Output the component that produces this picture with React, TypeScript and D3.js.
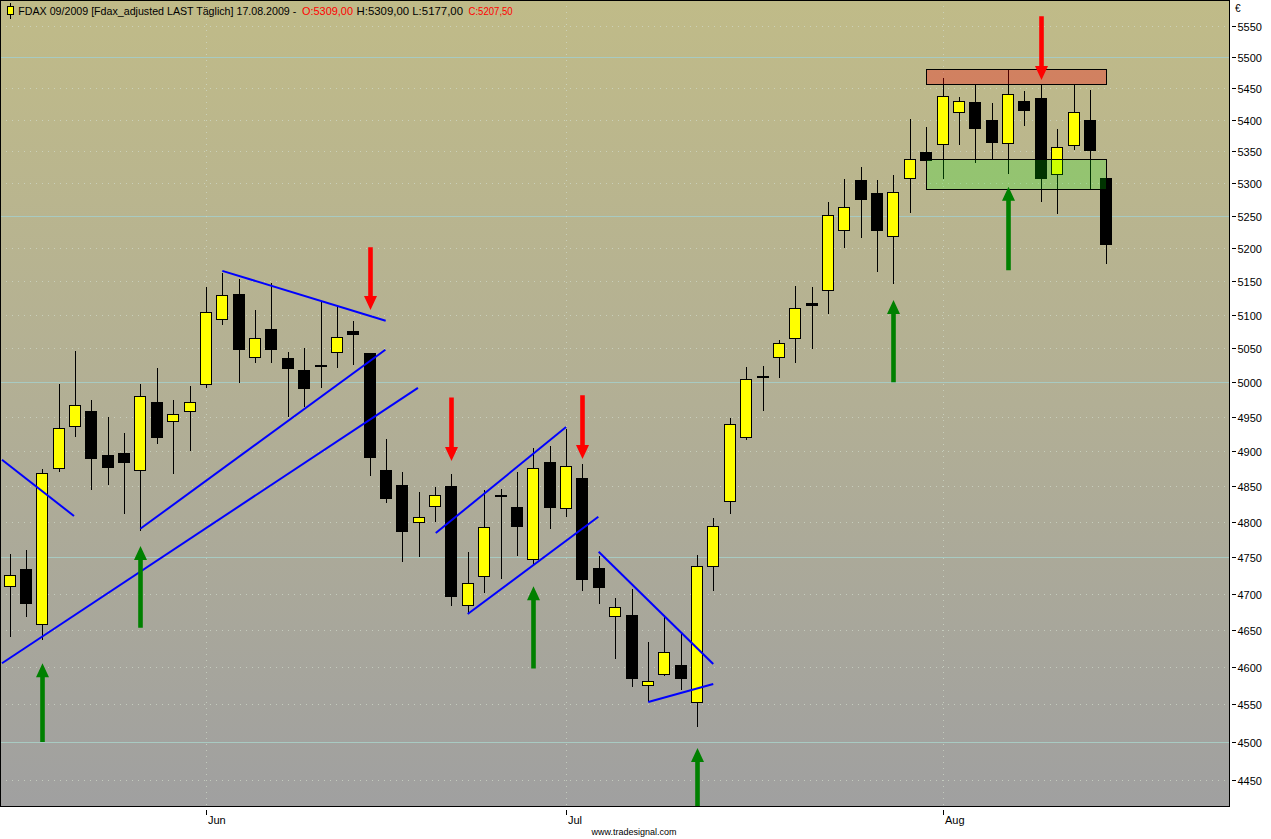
import * as d3 from "d3";
import React from "react";

// daily FDAX candles, 14.05.2009 .. 17.08.2009
const open = [
  4711, 4734, 4658, 4876, 4937, 4958, 4894, 4898, 4873, 4971, 4943, 4958, 4997, 5093, 5131, 5038, 5079,
  5036, 5018, 5025, 5044, 5075.5, 5043, 4873, 4852, 4799, 4822, 4850.5, 4684, 4724, 4837.5, 4821,
  4747.5, 4885, 4819, 4862, 4735, 4669, 4670.5, 4575.5, 4590, 4602.5, 4553.5, 4738, 4829, 4920.5,
  5009, 5037, 5065, 5117, 5137, 5228, 5305, 5285, 5218.5, 5308, 5349, 5361, 5412, 5427.5, 5399.5,
  5363, 5430, 5434, 5314.5, 5359.5, 5399.5, 5309,
];
const high = [
  4755, 4760, 4875, 4998, 5046, 4974, 4950, 4926, 4998, 5021, 4974, 4995, 5142, 5163, 5153, 5107, 5148,
  5045, 5050, 5120, 5113, 5091, 5043, 4918, 4870, 4842, 4849, 4868, 4757, 4845, 4846, 4870.5,
  4905, 4908, 4932.5, 4881.5, 4752, 4694, 4706.5, 4634, 4670.5, 4644.5, 4753.5, 4805, 4948, 5022.5,
  5024, 5062.5, 5143, 5141, 5271, 5307, 5326, 5305.5, 5313, 5400.5, 5388, 5466, 5436, 5456, 5426.5,
  5481, 5445.5, 5456, 5385.5, 5456, 5447, 5309,
];
const low = [
  4640, 4668, 4637, 4870, 4921, 4845, 4852, 4811, 4787, 4910, 4867, 4901, 4991, 5084, 4999.5, 5028, 5029,
  4949, 4964, 4991, 5021, 5026, 4864, 4827, 4743, 4751, 4799, 4683, 4673, 4700.5, 4720.5, 4752.5,
  4741, 4790, 4807, 4704, 4685, 4610.5, 4573, 4553.5, 4588, 4569, 4520, 4704, 4811, 4916,
  4958.5, 5007, 5029, 5049.5, 5101.5, 5201, 5216.5, 5165, 5146.5, 5255, 5336, 5307.5, 5360.5, 5332.5, 5336,
  5314, 5390.5, 5272, 5253.5, 5351.5, 5291, 5177,
];
const close = [
  4725, 4687.5, 4869, 4934, 4967, 4890, 4878, 4884, 4980, 4921, 4953.5, 4971, 5104, 5129, 5049, 5065, 5049.5,
  5021.5, 4991.5, 5024, 5066.5, 5072, 4892, 4834, 4787, 4806, 4837, 4697, 4714, 4792, 4836, 4794.5,
  4876, 4821, 4878.5, 4720.5, 4709.5, 4681, 4584.5, 4581, 4620, 4585.5, 4738, 4794, 4939, 5004.5,
  5008.5, 5057.5, 5110, 5115, 5251, 5263, 5276.5, 5227.5, 5286.5, 5338, 5336, 5437.5, 5429.5, 5387.5, 5364,
  5440.5, 5416, 5309, 5356.5, 5412, 5351.5, 5207.5,
];

const monthTicks = [
  { label: "Jun", index: 12 },
  { label: "Jul", index: 34 },
  { label: "Aug", index: 57 },
];
const priceTicks = d3.range(4450, 5551, 50);

// drawn annotations (candle index, price)
const trendLines = [
  { i0: -0.46, p0: 4888, i1: 3.94, p1: 4808 },
  { i0: -0.46, p0: 4605, i1: 24.95, p1: 4992 },
  { i0: 7.99, p0: 4790, i1: 22.96, p1: 5048 },
  { i0: 13.0, p0: 5166, i1: 22.98, p1: 5091 },
  { i0: 26.04, p0: 4784, i1: 34.0, p1: 4935 },
  { i0: 27.99, p0: 4672, i1: 35.97, p1: 4807 },
  { i0: 35.99, p0: 4758, i1: 42.99, p1: 4604 },
  { i0: 39.02, p0: 4553, i1: 42.99, p1: 4577 },
];
const upArrows = [
  { i: 2, from: 4500, to: 4605 },
  { i: 8, from: 4653, to: 4766 },
  { i: 32, from: 4598, to: 4710 },
  { i: 42, from: 4410, to: 4492 },
  { i: 54, from: 5000, to: 5122 },
  { i: 61, from: 5167, to: 5295 },
];
const downArrows = [
  { i: 22, from: 5202, to: 5107 },
  { i: 27, from: 4978, to: 4886 },
  { i: 35, from: 4981, to: 4889 },
  { i: 63, from: 5566, to: 5463 },
];
const zones = [
  { i0: 56, i1: 67, lo: 5456, hi: 5481, fill: "rgba(255,0,0,0.3)" },
  { i0: 56, i1: 67, lo: 5291, hi: 5338, fill: "rgba(0,255,0,0.2)" },
];

const W = 1271;
const H = 839;
const plot = { left: 0, top: 0, right: 1229, bottom: 806 };
const font = "Liberation Sans, Arial, sans-serif";
const narrow = "Liberation Sans Narrow, Arial Narrow, sans-serif";

const fmt = (v: number) => v.toFixed(2).replace(".", ",");

export default function App() {
  const x = d3.scaleLinear().domain([0, open.length - 1]).range([9.5, 1106.3]);
  const y = d3.scaleLog().domain([4500, 5500]).range([742, 57]);
  const last = open.length - 1;

  const arrowPath = (cx: number, tip: number, base: number) => {
    const dir = base > tip ? 1 : -1; // 1 = pointing up
    const hy = tip + dir * 14;
    return `M${cx},${tip}L${cx + 6.5},${hy}L${cx + 2.3},${hy}L${cx + 2.3},${base}L${cx - 2.3},${base}L${cx - 2.3},${hy}L${cx - 6.5},${hy}Z`;
  };

  // title pieces: text, colour, x, width
  const title = [
    { t: "FDAX 09/2009 [Fdax_adjusted LAST Täglich] 17.08.2009 -", c: "#000", x: 18.3, w: 278 },
    { t: `O:${fmt(open[last])}`, c: "#ff0000", x: 302, w: 51 },
    { t: `H:${fmt(high[last])} L:${fmt(low[last])}`, c: "#000", x: 356.5, w: 106.5 },
    { t: `C:${fmt(close[last])}`, c: "#ff0000", x: 468.5, w: 44.2 },
  ];

  return (
    <svg width={W} height={H} style={{ display: "block", background: "#fff" }}>
      <style>{"body{margin:0}"}</style>
      <defs>
        <linearGradient id="bg" x1="0" y1="0" x2="0" y2="1">
          <stop offset="0%" stopColor="#c0bb88" />
          <stop offset="50%" stopColor="#b2af95" />
          <stop offset="100%" stopColor="#a0a0a0" />
        </linearGradient>
        <clipPath id="plotClip">
          <rect x={plot.left + 1} y={plot.top + 1} width={plot.right - 1} height={plot.bottom - 1} />
        </clipPath>
      </defs>

      <rect x={plot.left} y={plot.top} width={plot.right} height={plot.bottom} fill="url(#bg)" />

      <g clipPath="url(#plotClip)">
        {/* grid */}
        {priceTicks.map((p) => {
          const yy = Math.round(y(p)) + 0.5;
          const solid = p % 250 === 0;
          return (
            <line
              key={p}
              x1={plot.left}
              x2={plot.right}
              y1={yy}
              y2={yy}
              stroke={solid ? "#a8cac2" : "#d2dccc"}
              strokeOpacity={solid ? 1 : 0.7}
              strokeDasharray={solid ? undefined : "1 5"}
            />
          );
        })}
        {monthTicks.map((m) => {
          const xx = Math.round(x(m.index)) + 0.5;
          return (
            <line
              key={m.label}
              x1={xx}
              x2={xx}
              y1={plot.top}
              y2={plot.bottom}
              stroke="#d2dccc"
              strokeOpacity={0.7}
              strokeDasharray="1 5"
            />
          );
        })}

        {/* candles */}
        {open.map((o, i) => {
          const c = close[i];
          const cx = Math.round(x(i));
          const top = Math.round(y(Math.max(o, c)));
          const bot = Math.round(y(Math.min(o, c)));
          const up = c > o;
          return (
            <g key={i}>
              <line x1={cx + 0.5} x2={cx + 0.5} y1={Math.round(y(high[i]))} y2={Math.round(y(low[i]))} stroke="#000" />
              <rect
                x={cx - 5.5}
                y={top + 0.5}
                width={11}
                height={Math.max(bot - top, 1)}
                fill={up ? "#ffff00" : "#000"}
                stroke="#000"
              />
            </g>
          );
        })}

        {/* zones */}
        {zones.map((z, k) => {
          const x0 = Math.round(x(z.i0)) + 0.5;
          const x1 = Math.round(x(z.i1)) + 0.5;
          const y0 = Math.round(y(z.hi)) + 0.5;
          const y1 = Math.round(y(z.lo)) + 0.5;
          return <rect key={k} x={x0} y={y0} width={x1 - x0} height={y1 - y0} fill={z.fill} stroke="#000" />;
        })}

        {/* trend lines */}
        {trendLines.map((t, k) => (
          <line key={k} x1={x(t.i0)} y1={y(t.p0)} x2={x(t.i1)} y2={y(t.p1)} stroke="#0000ff" strokeWidth={2} />
        ))}

        {/* arrows */}
        {upArrows.map((a, k) => (
          <path key={"u" + k} d={arrowPath(Math.round(x(a.i)) + 0.5, y(a.to), y(a.from))} fill="#008000" />
        ))}
        {downArrows.map((a, k) => (
          <path key={"d" + k} d={arrowPath(Math.round(x(a.i)) + 0.5, y(a.to), y(a.from))} fill="#ff0000" />
        ))}
      </g>

      <rect x={plot.left + 0.5} y={plot.top + 0.5} width={plot.right} height={plot.bottom} fill="none" stroke="#000" />

      {/* title */}
      <g>
        <line x1={10.5} x2={10.5} y1={3} y2={19} stroke="#000" />
        <rect x={7.5} y={6.5} width={6} height={8} fill="#ffff00" stroke="#000" />
        {title.map((s) => (
          <text
            key={s.t}
            x={s.x}
            y={15}
            fill={s.c}
            fontFamily={font}
            fontSize={10.8}
            textLength={s.w}
            lengthAdjust="spacingAndGlyphs"
          >
            {s.t}
          </text>
        ))}
      </g>

      {/* right axis */}
      <text x={1235} y={12} fontFamily={font} fontSize={10}>
        €
      </text>
      {priceTicks.map((p) => {
        const yy = Math.round(y(p)) + 0.5;
        return (
          <g key={p}>
            <line x1={1232} x2={1236} y1={yy} y2={yy} stroke="#000" />
            <text x={1237.5} y={yy + 4} fontFamily={font} fontSize={11} fill="#000">
              {p}
            </text>
          </g>
        );
      })}

      {/* bottom axis */}
      {monthTicks.map((m) => {
        const xx = Math.round(x(m.index)) + 0.5;
        return (
          <g key={m.label}>
            <line x1={xx} x2={xx} y1={810} y2={815} stroke="#000" />
            <text x={xx + 1.5} y={824} fontFamily={narrow} fontSize={11}>
              {m.label}
            </text>
          </g>
        );
      })}
      <text x={634} y={835} textAnchor="middle" fontFamily={narrow} fontSize={9}>
        www.tradesignal.com
      </text>
    </svg>
  );
}
